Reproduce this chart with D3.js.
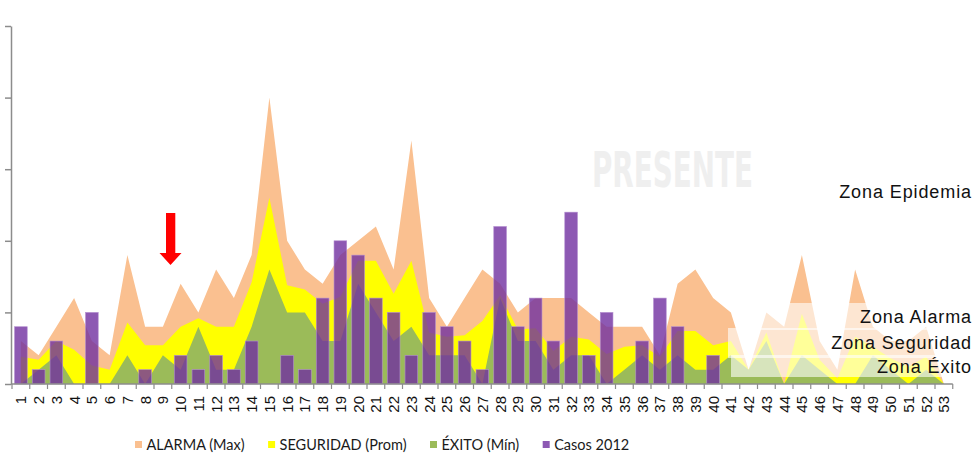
<!DOCTYPE html>
<html>
<head>
<meta charset="utf-8">
<script src="https://cdn.jsdelivr.net/npm/d3@7"></script>
<style>
  body { margin: 0; background: #fff; }
  svg { display: block; }
</style>
</head>
<body>
<div id="chart"></div>
<script>
// epidemiological weeks 1..53
var weeks = d3.range(1, 54).map(String);

// endemic channel (previous years) and 2012 cases
var alarmaMax = [3, 2, 4, 6, 3, 2, 9, 4, 4, 7, 5, 8, 6, 9, 20, 10, 8, 7, 9, 10, 11, 8, 17, 6, 4, 6, 8, 7, 5, 6,
    6, 6, 5, 4, 4, 4, 2, 7, 8, 6, 5, 1, 5, 4, 9, 3, 1, 8, 4, 3, 3, 4, 0];
var seguridadProm = [1.9, 1.7, 3.0, 2.4, 1.3, 1.0, 4.3, 2.7, 2.7, 4.0, 4.6, 4.0, 4.0, 7.1, 13.0, 6.9, 6.6, 5.6, 6.1, 8.6,
    8.6, 6.3, 8.6, 3.6, 3.3, 3.4, 4.4, 6.2, 3.8, 3.9, 2.3, 3.3, 3.1, 2.1, 2.6, 2.7, 1.9, 3.7, 3.7, 2.7,
    3.0, 1.0, 3.6, 0, 4.9, 1.7, 0.4, 3.3, 2.6, 1.8, 1.2, 1.9, 0];
var exitoMin = [0, 1, 2, 0, 0, 0, 2, 0, 2, 1, 4, 1, 1, 4, 8, 5, 5, 3, 3, 7, 5, 3, 4, 2, 2, 2, 0, 6, 3, 3,
    1, 2, 2, 0, 1, 2, 1, 2, 1, 1, 2, 1, 3, 0, 2, 1, 0, 0, 2, 1, 0, 1, 0];
var casos2012 = [4, 1, 3, 0, 5, 0, 0, 1, 0, 2, 1, 2, 1, 3, 0, 2, 1, 6, 10, 9, 6, 5, 2, 5, 4, 3, 1, 11, 4, 6,
    3, 12, 2, 5, 0, 3, 6, 4, 0, 2, 0, 0, 0, 0, 0, 0, 0, 0, 0, 0, 0, 0, 0];

var yTicks = [0, 5, 10, 15, 20, 25];

var series = [
    { name: "ALARMA (Max)", values: alarmaMax, color: "#FAC090" },
    { name: "SEGURIDAD (Prom)", values: seguridadProm, color: "#FFFF00" },
    { name: "ÉXITO (Mín)", values: exitoMin, color: "#9BBB59" }
];
var barColor = "#7030A0", barOpacity = 0.8;

var zones = [
    { label: "Zona Epidemia", y: 198 },
    { label: "Zona Alarma", y: 323 },
    { label: "Zona Seguridad", y: 349 },
    { label: "Zona Éxito", y: 373 }
];

var width = 977, height = 462;
var plotLeft = 12, plotRight = 952.75, plotTop = 26, plotBottom = 384;

var svg = d3.select("#chart").append("svg")
    .attr("width", width)
    .attr("height", height)
    .style("font-family", "'Liberation Sans', Arial, sans-serif");

var x = d3.scaleBand()
    .domain(weeks)
    .range([plotLeft, plotRight])
    .paddingInner(0.285)
    .paddingOuter(0.1425);

var y = d3.scaleLinear()
    .domain([0, 25])
    .range([plotBottom, plotTop]);

var cx = function (i) { return x(weeks[i]) + x.bandwidth() / 2; };

// watermark
svg.append("text")
    .attr("x", 592)
    .attr("y", 187)
    .attr("textLength", 161)
    .attr("lengthAdjust", "spacingAndGlyphs")
    .style("font-family", "'Liberation Sans Narrow', 'DejaVu Sans Condensed', sans-serif")
    .style("font-weight", "bold")
    .style("font-size", "50px")
    .style("fill", "#efefef")
    .text("PRESENTE");

// overlapping areas, largest behind
var area = d3.area()
    .x(function (d, i) { return cx(i); })
    .y0(y(0))
    .y1(function (d) { return y(d); });

svg.append("g").selectAll("path")
    .data(series)
    .enter().append("path")
    .attr("d", function (d) { return area(d.values); })
    .style("fill", function (d) { return d.color; });

// 2012 cases
svg.append("g").selectAll("rect")
    .data(casos2012)
    .enter().append("rect")
    .attr("x", function (d, i) { return x(weeks[i]); })
    .attr("y", function (d) { return y(d); })
    .attr("width", x.bandwidth())
    .attr("height", function (d) { return y(0) - y(d); })
    .style("fill", barColor)
    .style("fill-opacity", barOpacity)
    .style("stroke", "#b48fd0")
    .style("stroke-width", 0.6);

// axes
var yAxis = d3.axisLeft(y)
    .tickValues(yTicks)
    .tickSize(6)
    .tickSizeOuter(0)
    .tickFormat("");

var gy = svg.append("g")
    .attr("transform", "translate(" + (plotLeft - 1) + ",0)")
    .call(yAxis);
gy.selectAll("path, line").style("stroke", "#8c8c8c").style("stroke-width", 1.5);

var xAxis = d3.axisBottom(x).tickSize(0).tickSizeOuter(0);
var gx = svg.append("g")
    .attr("transform", "translate(0," + plotBottom + ")")
    .call(xAxis);
gx.select(".domain")
    .attr("d", "M" + (plotLeft - 1) + ",0H" + plotRight)
    .style("stroke", "#8c8c8c").style("stroke-width", 1.5);
gx.selectAll(".tick text")
    .attr("transform", "translate(0,12) rotate(-90)")
    .attr("x", 0)
    .attr("y", 0)
    .attr("dy", "0.36em")
    .style("text-anchor", "end")
    .style("font-size", "15px")
    .style("fill", "#111");

// ticks between weeks
var step = x.step();
gx.selectAll(".bound")
    .data(d3.range(weeks.length + 1))
    .enter().append("line")
    .attr("class", "bound")
    .attr("x1", function (i) { return plotLeft + i * step; })
    .attr("x2", function (i) { return plotLeft + i * step; })
    .attr("y1", 0)
    .attr("y2", 5)
    .style("stroke", "#8c8c8c")
    .style("stroke-width", 1.2);

// red arrow pointing at the current week
svg.append("path")
    .attr("d", "M166,213H175.3V253H181.5L170.5,265L159.5,253H166Z")
    .style("fill", "#ff0000");

// semi-transparent label boxes
var boxes = [
    { x: 760, y: 303, w: 217, h: 27 },
    { x: 728, y: 328, w: 249, h: 30 },
    { x: 731, y: 355, w: 246, h: 22 }
];
svg.append("g").selectAll("rect")
    .data(boxes)
    .enter().append("rect")
    .attr("x", function (d) { return d.x; })
    .attr("y", function (d) { return d.y; })
    .attr("width", function (d) { return d.w; })
    .attr("height", function (d) { return d.h; })
    .style("fill", "#fff")
    .style("fill-opacity", 0.6);

svg.append("g").selectAll("text")
    .data(zones)
    .enter().append("text")
    .attr("x", 972)
    .attr("y", function (d) { return d.y; })
    .style("text-anchor", "end")
    .style("font-size", "18px")
    .style("letter-spacing", "0.9px")
    .style("fill", "#111")
    .text(function (d) { return d.label; });

// legend
var legendItems = series.map(function (s) { return { name: s.name, color: s.color, opacity: 1 }; })
    .concat([{ name: "Casos 2012", color: barColor, opacity: barOpacity }]);

var legend = svg.append("g");
var lx = 135;
legendItems.forEach(function (d) {
    legend.append("rect")
        .attr("x", lx)
        .attr("y", 441)
        .attr("width", 7)
        .attr("height", 7)
        .style("fill", d.color)
        .style("fill-opacity", d.opacity);
    var t = legend.append("text")
        .attr("x", lx + 11.5)
        .attr("y", 449.5)
        .style("font-family", "Lato, 'Open Sans', sans-serif")
        .style("font-size", "14.5px")
        .style("fill", "#1a1a1a")
        .text(d.name);
    lx += 11.5 + t.node().getComputedTextLength() + 23.5;
});
</script>
</body>
</html>
